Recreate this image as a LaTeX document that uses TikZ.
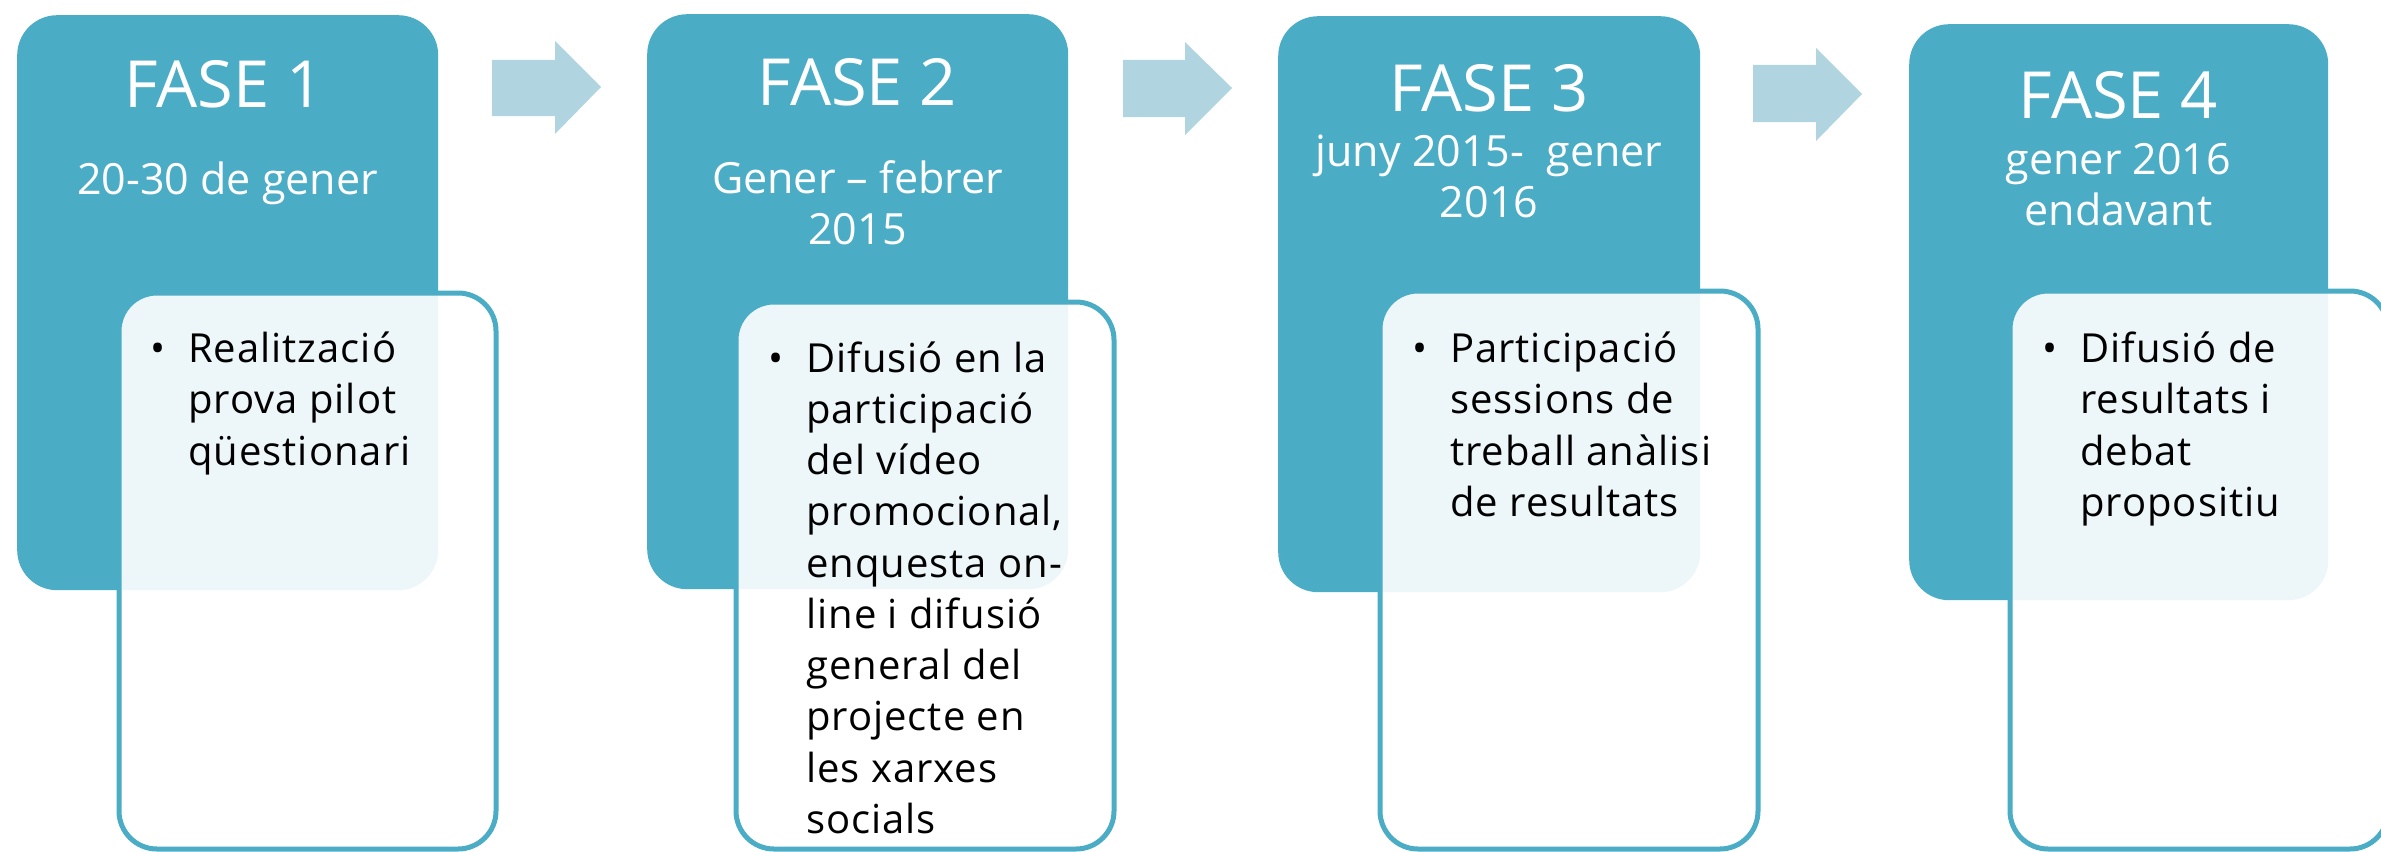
\documentclass[tikz,border=0pt]{standalone}
\usepackage{fontspec}
\setmainfont{Open Sans}
\definecolor{tealA}{HTML}{4BACC6}
\definecolor{arrowc}{HTML}{B1D5E0}
\tikzset{
  darkbox/.style={fill=tealA, draw=none, rounded corners=40pt, inner sep=0, anchor=north west},
  whitebox/.style={fill=white, fill opacity=0.9, draw=tealA, draw opacity=1, line width=5pt, rounded corners=38pt, inner sep=0, anchor=north west},
  blockarrow/.style={fill=arrowc, draw=none},
  ttl/.style={text=white, font=\fontsize{65}{65}\selectfont, inner sep=0, anchor=base},
  datetxt/.style={text=white, font=\fontsize{43}{43}\selectfont, inner sep=0, anchor=base},
  body/.style={text=black, font=\fontsize{40}{40}\selectfont\addfontfeatures{LetterSpace=2.5}, inner sep=0, anchor=base west},
  bul/.style={text=black, font=\fontsize{40}{40}\selectfont, inner sep=0, anchor=base},
}
\begin{document}
\begin{tikzpicture}[x=1pt,y=-1pt]
\useasboundingbox (0,0) rectangle (2381,851);
\clip (0,0) rectangle (2381,851);
% block arrows
\fill[blockarrow] (492,60) -- (555,60) -- (555,41) -- (601,87) -- (555,134) -- (555,116) -- (492,116) -- cycle;
\fill[blockarrow] (1123,60) -- (1185,60) -- (1185,42) -- (1232,88) -- (1185,135) -- (1185,117) -- (1123,117) -- cycle;
\fill[blockarrow] (1753,65) -- (1816,65) -- (1816,48) -- (1862,94) -- (1816,141) -- (1816,122) -- (1753,122) -- cycle;
% phase 1
\node[darkbox, minimum width=421pt, minimum height=575pt] (d1) at (17,15) {};
\node[whitebox, minimum width=377pt, minimum height=556pt] (w1) at (116.5,290.5) {};
\node[ttl] (t1) at (224,107) {FASE 1};
\node[datetxt] (a1) at (227.5,194) {20-30 de gener};
\node[bul] (p1) at (158,362) {•};
\foreach \l [count=\i from 0] in {Realització, prova pilot, qüestionari}
  \node[body] (b1-\i) at (188,362.5+51.3*\i) {\l};
% phase 2
\node[darkbox, minimum width=421pt, minimum height=575pt] (d2) at (647,14) {};
\node[whitebox, minimum width=378pt, minimum height=547pt] (w2) at (733.5,299.5) {};
\node[ttl] (t2) at (857.5,105.5) {FASE 2};
\node[datetxt] (a2) at (857.5,193) {Gener – febrer};
\node[datetxt] (a2b) at (857.5,244) {2015};
\node[bul] (p2) at (776,372) {•};
\foreach \l [count=\i from 0] in {Difusió en la, participació, del vídeo, {promocional,}, enquesta on-, line i difusió, general del, projecte en, les xarxes, socials}
  \node[body] (b2-\i) at (806,372+51.25*\i) {\l};
% phase 3
\node[darkbox, minimum width=422pt, minimum height=576pt] (d3) at (1278,16) {};
\node[whitebox, minimum width=378pt, minimum height=558pt] (w3) at (1377.5,288.5) {};
\node[ttl] (t3) at (1489,111) {FASE 3};
\node[datetxt] (a3) at (1489,166) {juny 2015-\ \ gener};
\node[datetxt] (a3b) at (1489,217) {2016};
\node[bul] (p3) at (1420,362) {•};
\foreach \l [count=\i from 0] in {Participació, sessions de, treball anàlisi, de resultats}
  \node[body] (b3-\i) at (1450,362.5+51.3*\i) {\l};
% phase 4
\node[darkbox, minimum width=419pt, minimum height=576pt] (d4) at (1909,24) {};
\node[whitebox, minimum width=378pt, minimum height=558pt] (w4) at (2007.5,288.5) {};
\node[ttl] (t4) at (2118.5,118) {FASE 4};
\node[datetxt] (a4) at (2118.5,174) {gener 2016};
\node[datetxt] (a4b) at (2118.5,225) {endavant};
\node[bul] (p4) at (2050,362) {•};
\foreach \l [count=\i from 0] in {Difusió de, resultats i, debat, propositiu}
  \node[body] (b4-\i) at (2080,362.5+51.3*\i) {\l};
\end{tikzpicture}
\end{document}
